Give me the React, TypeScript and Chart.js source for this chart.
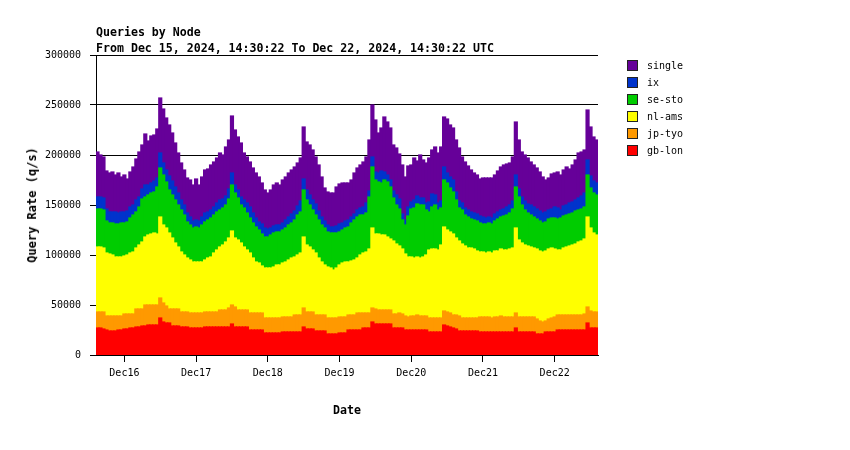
import React, { useEffect, useRef } from "react";
import { Chart, registerables } from "chart.js";

Chart.register(...registerables);

// ---- categories: hourly buckets, centre of first bucket = Dec 15 15:00 UTC ----
const START_UTC = Date.UTC(2024, 11, 15, 15, 0, 0);
const HOUR_MS = 3600000;
const BUCKETS = 168;
const hourLabels: string[] = Array.from({ length: BUCKETS }, (_, i) =>
  new Date(START_UTC + i * HOUR_MS).toISOString()
);
const dayTickLabels = ["Dec16", "Dec17", "Dec18", "Dec19", "Dec20", "Dec21", "Dec22"];

// ---- y axis ----
const Y_MIN = 0;
const Y_MAX = 300000;
const Y_STEP = 50000;

// ---- series (queries per second, stacked bottom -> top: gb-lon, jp-tyo, nl-ams, se-sto, ix, single) ----
const gbLon = [
  27000, 27000, 26000, 25000, 24000, 24000, 24000, 25000, 25000, 26000,
  26000, 27000, 27000, 28000, 28000, 29000, 29000, 30000, 30000, 30000,
  30000, 37000, 33000, 32000, 32000, 29000, 29000, 29000, 28000, 28000,
  28000, 27000, 27000, 27000, 27000, 27000, 28000, 28000, 28000, 28000,
  28000, 28000, 28000, 28000, 28000, 31000, 28000, 28000, 28000, 28000,
  28000, 25000, 25000, 25000, 25000, 25000, 22000, 22000, 22000, 22000,
  22000, 22000, 23000, 23000, 23000, 23000, 23000, 23000, 23000, 28000,
  26000, 26000, 26000, 24000, 24000, 24000, 24000, 21000, 21000, 21000,
  21000, 22000, 22000, 22000, 25000, 25000, 25000, 25000, 25000, 27000,
  27000, 27000, 33000, 31000, 31000, 31000, 31000, 31000, 31000, 27000,
  27000, 27000, 27000, 25000, 25000, 25000, 25000, 25000, 25000, 25000,
  25000, 23000, 23000, 23000, 23000, 23000, 30000, 29000, 28000, 27000,
  26000, 24000, 24000, 24000, 24000, 24000, 24000, 24000, 23000, 23000,
  23000, 23000, 23000, 23000, 23000, 23000, 23000, 23000, 23000, 23000,
  27000, 23000, 23000, 23000, 23000, 23000, 23000, 21000, 21000, 21000,
  23000, 23000, 23000, 23000, 25000, 25000, 25000, 25000, 25000, 25000,
  25000, 25000, 25000, 25000, 32000, 27000, 27000, 27000,
];

const jpTyo = [
  16000, 16000, 17000, 14000, 15000, 15000, 15000, 14000, 14000, 15000,
  15000, 14000, 14000, 18000, 18000, 17000, 21000, 20000, 20000, 20000,
  20000, 20000, 19000, 17000, 14000, 17000, 17000, 17000, 15000, 15000,
  15000, 15000, 15000, 15000, 15000, 15000, 15000, 15000, 15000, 15000,
  15000, 17000, 17000, 17000, 19000, 19000, 20000, 17000, 17000, 17000,
  17000, 17000, 17000, 17000, 17000, 17000, 15000, 15000, 15000, 15000,
  15000, 15000, 15000, 15000, 15000, 15000, 17000, 17000, 17000, 19000,
  17000, 17000, 17000, 16000, 16000, 16000, 16000, 16000, 16000, 16000,
  16000, 16000, 16000, 16000, 15000, 15000, 15000, 17000, 17000, 15000,
  15000, 15000, 14000, 15000, 14000, 14000, 14000, 14000, 14000, 14000,
  14000, 15000, 14000, 14000, 13000, 14000, 14000, 15000, 14000, 14000,
  14000, 14000, 14000, 14000, 14000, 14000, 14000, 14000, 14000, 13000,
  14000, 15000, 13000, 13000, 13000, 13000, 13000, 13000, 15000, 15000,
  15000, 15000, 14000, 15000, 15000, 16000, 15000, 15000, 15000, 15000,
  15000, 15000, 15000, 15000, 15000, 15000, 15000, 15000, 13000, 12000,
  11000, 13000, 14000, 15000, 15000, 15000, 15000, 15000, 15000, 15000,
  15000, 15000, 15000, 16000, 16000, 17000, 16000, 16000,
];

const nlAms = [
  65000, 65000, 64000, 63000, 62000, 61000, 59000, 59000, 59000, 58000,
  59000, 61000, 62000, 61000, 64000, 67000, 68000, 70000, 71000, 72000,
  71000, 81000, 78000, 78000, 76000, 71000, 66000, 62000, 60000, 57000,
  54000, 53000, 51000, 51000, 51000, 51000, 52000, 54000, 55000, 59000,
  62000, 63000, 65000, 68000, 70000, 74000, 69000, 70000, 67000, 63000,
  60000, 60000, 55000, 51000, 50000, 47000, 50000, 50000, 50000, 51000,
  53000, 53000, 54000, 55000, 57000, 59000, 58000, 60000, 62000, 71000,
  67000, 65000, 62000, 62000, 57000, 53000, 50000, 51000, 50000, 48000,
  50000, 52000, 54000, 55000, 53000, 54000, 55000, 55000, 58000, 60000,
  61000, 64000, 80000, 75000, 76000, 75000, 75000, 73000, 71000, 73000,
  70000, 67000, 65000, 62000, 60000, 59000, 58000, 58000, 58000, 59000,
  61000, 68000, 69000, 69000, 68000, 73000, 84000, 82000, 81000, 81000,
  77000, 75000, 74000, 72000, 70000, 70000, 69000, 67000, 65000, 65000,
  64000, 65000, 65000, 66000, 66000, 67000, 67000, 67000, 68000, 69000,
  85000, 77000, 74000, 72000, 71000, 70000, 69000, 70000, 70000, 70000,
  70000, 70000, 70000, 68000, 65000, 65000, 67000, 68000, 69000, 70000,
  71000, 73000, 74000, 75000, 90000, 83000, 79000, 77000,
];

const seSto = [
  38000, 38000, 38000, 32000, 31000, 32000, 33000, 33000, 34000, 33000,
  33000, 35000, 37000, 36000, 38000, 43000, 40000, 40000, 41000, 41000,
  47000, 49000, 50000, 46000, 43000, 43000, 43000, 42000, 42000, 40000,
  36000, 35000, 34000, 35000, 34000, 37000, 38000, 38000, 39000, 38000,
  38000, 37000, 37000, 37000, 39000, 46000, 45000, 42000, 38000, 39000,
  37000, 35000, 35000, 35000, 33000, 32000, 31000, 31000, 33000, 34000,
  33000, 33000, 33000, 34000, 35000, 35000, 37000, 40000, 41000, 47000,
  45000, 42000, 40000, 38000, 38000, 37000, 37000, 35000, 35000, 37000,
  35000, 33000, 33000, 34000, 35000, 38000, 40000, 41000, 40000, 38000,
  39000, 52000, 61000, 54000, 52000, 52000, 55000, 55000, 52000, 43000,
  39000, 37000, 29000, 29000, 41000, 48000, 50000, 53000, 53000, 52000,
  45000, 38000, 42000, 44000, 40000, 37000, 47000, 47000, 44000, 42000,
  38000, 33000, 34000, 31000, 31000, 29000, 29000, 30000, 29000, 28000,
  29000, 29000, 29000, 30000, 32000, 32000, 34000, 35000, 36000, 39000,
  41000, 43000, 38000, 35000, 33000, 32000, 31000, 30000, 30000, 29000,
  29000, 30000, 30000, 31000, 31000, 32000, 32000, 32000, 32000, 32000,
  33000, 32000, 32000, 32000, 42000, 40000, 40000, 40000,
];

const ix = [
  12000, 12000, 12000, 12000, 11000, 11000, 12000, 11000, 11000, 11000,
  11000, 11000, 10000, 12000, 10000, 10000, 12000, 10000, 10000, 11000,
  9000, 15000, 12000, 12000, 14000, 14000, 13000, 12000, 10000, 10000,
  9000, 8000, 7000, 7000, 7000, 8000, 9000, 8000, 8000, 8000,
  9000, 10000, 9000, 9000, 10000, 12000, 8000, 8000, 8000, 8000,
  10000, 11000, 10000, 9000, 8000, 10000, 9000, 8000, 7000, 7000,
  7000, 7000, 7000, 8000, 8000, 9000, 9000, 9000, 11000, 11000,
  10000, 10000, 10000, 11000, 9000, 8000, 7000, 7000, 6000, 6000,
  7000, 8000, 7000, 7000, 7000, 6000, 6000, 7000, 7000, 8000,
  10000, 6000, 10000, 8000, 9000, 12000, 8000, 7000, 7000, 7000,
  10000, 10000, 6000, 5000, 9000, 7000, 8000, 8000, 7000, 7000,
  7000, 10000, 13000, 10000, 7000, 7000, 13000, 10000, 11000, 12000,
  8000, 7000, 7000, 7000, 7000, 7000, 7000, 7000, 7000, 7000,
  6000, 6000, 6000, 7000, 7000, 7000, 7000, 8000, 8000, 8000,
  12000, 8000, 8000, 9000, 9000, 10000, 10000, 10000, 10000, 10000,
  10000, 9000, 9000, 11000, 11000, 8000, 10000, 10000, 11000, 11000,
  11000, 12000, 13000, 14000, 15000, 12000, 12000, 12000,
];

const single = [
  45000, 42000, 41000, 38000, 39000, 40000, 37000, 40000, 35000, 37000,
  32000, 35000, 38000, 41000, 45000, 44000, 51000, 44000, 47000, 46000,
  49000, 55000, 54000, 52000, 51000, 48000, 44000, 40000, 37000, 35000,
  35000, 37000, 36000, 41000, 36000, 40000, 43000, 43000, 45000, 45000,
  45000, 47000, 44000, 49000, 49000, 57000, 55000, 53000, 54000, 47000,
  46000, 45000, 45000, 45000, 45000, 41000, 38000, 36000, 38000, 41000,
  42000, 40000, 43000, 43000, 44000, 44000, 44000, 43000, 43000, 52000,
  48000, 50000, 50000, 47000, 46000, 40000, 33000, 33000, 34000, 34000,
  39000, 40000, 40000, 38000, 37000, 37000, 41000, 42000, 43000, 45000,
  46000, 51000, 52000, 52000, 40000, 43000, 55000, 53000, 52000, 46000,
  47000, 45000, 49000, 43000, 41000, 37000, 42000, 35000, 43000, 38000,
  40000, 44000, 44000, 48000, 50000, 54000, 50000, 54000, 52000, 52000,
  52000, 53000, 46000, 46000, 44000, 42000, 40000, 39000, 37000, 39000,
  40000, 39000, 40000, 39000, 41000, 43000, 44000, 43000, 42000, 44000,
  53000, 49000, 45000, 46000, 46000, 43000, 42000, 41000, 39000, 36000,
  32000, 32000, 35000, 34000, 36000, 35000, 36000, 38000, 34000, 37000,
  40000, 45000, 44000, 43000, 50000, 49000, 44000, 43000,
];

const SERIES = [
  { label: "gb-lon", data: gbLon, color: "#ff0000" },
  { label: "jp-tyo", data: jpTyo, color: "#ff9900" },
  { label: "nl-ams", data: nlAms, color: "#ffff00" },
  { label: "se-sto", data: seSto, color: "#00cc00" },
  { label: "ix", data: ix, color: "#0033cc" },
  { label: "single", data: single, color: "#660099" },
];

const MONO = '"DejaVu Sans Mono", "Liberation Mono", monospace';

function dayTickIndex(i: number): number {
  const d = new Date(hourLabels[i]);
  if (d.getUTCHours() !== 0) return -1;
  return Math.round((d.getTime() - Date.UTC(2024, 11, 16)) / (24 * HOUR_MS));
}

export default function App() {
  const ref = useRef<HTMLCanvasElement>(null);

  useEffect(() => {
    if (!ref.current) return;
    const chart = new Chart(ref.current, {
      type: "bar",
      data: {
        labels: hourLabels,
        datasets: SERIES.map((s) => ({
          label: s.label,
          data: s.data,
          backgroundColor: s.color,
          borderWidth: 0,
          inflateAmount: 0.6,
          categoryPercentage: 1,
          barPercentage: 1,
        })),
      },
      options: {
        animation: false,
        responsive: false,
        maintainAspectRatio: false,
        layout: { padding: { left: 0, top: 55, right: 252, bottom: 65 } },
        plugins: {
          legend: { display: false },
          title: { display: false },
          tooltip: { enabled: false },
        },
        scales: {
          x: {
            stacked: true,
            offset: true,
            grid: {
              offset: false,
              drawOnChartArea: false,
              drawTicks: true,
              tickLength: 7,
              color: (ctx: any) => (dayTickIndex(ctx.index) >= 0 ? "#000" : "rgba(0,0,0,0)"),
            },
            border: { color: "#000", width: 1 },
            ticks: {
              autoSkip: false,
              maxRotation: 0,
              minRotation: 0,
              padding: 5,
              color: "#000",
              font: { family: MONO, size: 10 },
              callback: (_v: any, i: number) => {
                const k = dayTickIndex(i);
                return k >= 0 && k < dayTickLabels.length ? dayTickLabels[k] : "";
              },
            },
            afterFit: (s: any) => {
              s.height = 30;
            },
          },
          y: {
            stacked: true,
            min: Y_MIN,
            max: Y_MAX,
            grid: { color: "#000", lineWidth: 1, tickLength: 6 },
            border: { color: "#000", width: 1 },
            ticks: {
              stepSize: Y_STEP,
              padding: 9,
              color: "#000",
              font: { family: MONO, size: 10 },
              callback: (v: any) => String(v),
            },
            afterFit: (s: any) => {
              s.width = 96;
            },
          },
        },
      },
    });
    return () => chart.destroy();
  }, []);

  const legendItems = [...SERIES].reverse();

  return (
    <div
      style={{
        position: "fixed",
        left: 0,
        top: 0,
        width: 850,
        height: 450,
        background: "#fff",
        fontFamily: MONO,
        color: "#000",
      }}
    >
      <canvas ref={ref} width={850} height={450} style={{ display: "block", width: 850, height: 450 }} />
      <div style={{ position: "absolute", left: 96, top: 24, fontSize: 11.6, fontWeight: "bold", lineHeight: "16px", whiteSpace: "pre" }}>
        Queries by Node
      </div>
      <div style={{ position: "absolute", left: 96, top: 40, fontSize: 11.6, fontWeight: "bold", lineHeight: "16px", whiteSpace: "pre" }}>
        From Dec 15, 2024, 14:30:22 To Dec 22, 2024, 14:30:22 UTC
      </div>
      <div
        style={{
          position: "absolute",
          left: 32,
          top: 205,
          transform: "translate(-50%, -50%) rotate(-90deg)",
          fontSize: 12,
          fontWeight: "bold",
          whiteSpace: "pre",
          lineHeight: "14px",
        }}
      >
        Query Rate (q/s)
      </div>
      <div
        style={{
          position: "absolute",
          left: 347,
          top: 410,
          transform: "translate(-50%, -50%)",
          fontSize: 11.6,
          fontWeight: "bold",
          whiteSpace: "pre",
          lineHeight: "14px",
        }}
      >
        Date
      </div>
      {legendItems.map((s, i) => (
        <div key={s.label} style={{ position: "absolute", left: 627, top: 59 + i * 17, height: 12, display: "flex", alignItems: "center" }}>
          <div style={{ width: 9, height: 9, background: s.color, border: "1px solid #222", boxSizing: "content-box" }} />
          <div style={{ marginLeft: 9, fontSize: 10, lineHeight: "12px", whiteSpace: "pre", position: "relative", top: 1 }}>{s.label}</div>
        </div>
      ))}
    </div>
  );
}
